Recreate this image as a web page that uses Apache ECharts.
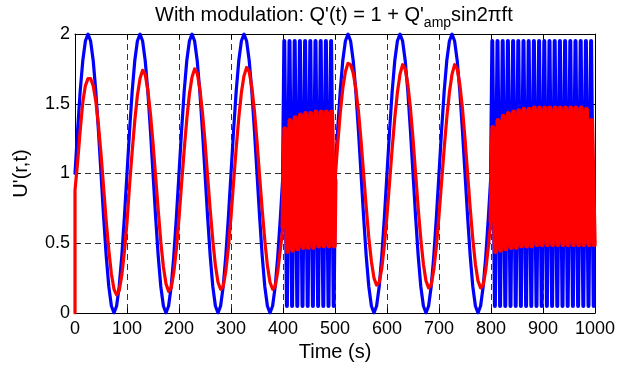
<!DOCTYPE html>
<html>
<head>
<meta charset="utf-8">
<script src="https://cdn.jsdelivr.net/npm/echarts@6/dist/echarts.min.js"></script>
<style>html,body{margin:0;padding:0;background:#fff}#c{width:619px;height:372px}</style>
</head>
<body>
<div id="c"></div>
<script>
// ---- data ----
const xTickLabels = [0, 100, 200, 300, 400, 500, 600, 700, 800, 900, 1000];
const yTickLabels = [0, 0.5, 1, 1.5, 2];

// slow segment 0..400 s, sampled every 5 s
const blueSlow1 = [
  1.00,1.31,1.59,1.81,1.95,2.00,1.95,1.81,1.59,1.31,1.00,0.69,0.41,0.19,0.05,0.00,0.05,0.19,0.41,0.69,
  1.00,1.31,1.59,1.81,1.95,2.00,1.95,1.81,1.59,1.31,1.00,0.69,0.41,0.19,0.05,0.00,0.05,0.19,0.41,0.69,
  1.00,1.31,1.59,1.81,1.95,2.00,1.95,1.81,1.59,1.31,1.00,0.69,0.41,0.19,0.05,0.00,0.05,0.19,0.41,0.69,
  1.00,1.31,1.59,1.81,1.95,2.00,1.95,1.81,1.59,1.31,1.00,0.69,0.41,0.19,0.05,0.00,0.05,0.19,0.41,0.69,
  1.00
];
const redInitial = 0.00;   // red starts from zero at t = 0
const redSlow1 = [
  0.88,1.08,1.31,1.51,1.63,1.68,1.68,1.63,1.52,1.35,1.14,0.90,0.66,0.45,0.28,0.17,0.13,0.16,0.27,0.44,
  0.65,0.92,1.16,1.38,1.56,1.68,1.74,1.71,1.60,1.43,1.22,0.98,0.74,0.51,0.33,0.21,0.155,0.18,0.29,0.46,
  0.68,0.93,1.17,1.39,1.57,1.69,1.75,1.72,1.61,1.44,1.23,0.98,0.74,0.52,0.34,0.22,0.17,0.19,0.30,0.47,
  0.69,0.94,1.18,1.40,1.58,1.70,1.76,1.73,1.62,1.45,1.23,0.98,0.74,0.52,0.34,0.22,0.17,0.19,0.30,0.46,
  0.62
];
// fast segment 400..500 s: successive extremes every 5 s
const blueFast1 = [
  1.95,0.05,1.95,0.05,1.95,0.05,1.95,0.05,1.95,0.05,
  1.95,0.05,1.95,0.05,1.95,0.05,1.95,0.05,1.95,0.05
];
const redFast1 = [
  1.32,0.44,1.38,0.45,1.40,0.46,1.42,0.47,1.43,0.47,
  1.43,0.47,1.44,0.48,1.44,0.48,1.44,0.48,1.44,0.48
];
// slow segment 500..800 s, sampled every 5 s
const blueSlow2 = [
  1.00,1.31,1.59,1.81,1.95,2.00,1.95,1.81,1.59,1.31,1.00,0.69,0.41,0.19,0.05,0.00,0.05,0.19,0.41,0.69,
  1.00,1.31,1.59,1.81,1.95,2.00,1.95,1.81,1.59,1.31,1.00,0.69,0.41,0.19,0.05,0.00,0.05,0.19,0.41,0.69,
  1.00,1.31,1.59,1.81,1.95,2.00,1.95,1.81,1.59,1.31,1.00,0.69,0.41,0.19,0.05,0.00,0.05,0.19,0.41,0.69,
  1.00
];
const redSlow2 = [
  0.95,1.20,1.43,1.61,1.73,1.79,1.78,1.72,1.61,1.45,1.24,1.00,0.76,0.54,0.37,0.25,0.20,0.22,0.32,0.49,
  0.70,0.94,1.18,1.40,1.58,1.71,1.78,1.75,1.64,1.47,1.25,1.00,0.75,0.53,0.35,0.23,0.18,0.20,0.31,0.48,
  0.70,0.94,1.18,1.40,1.58,1.71,1.78,1.75,1.64,1.47,1.25,1.00,0.75,0.53,0.35,0.23,0.18,0.20,0.31,0.48,
  0.66
];
// fast segment 800..1000 s: successive extremes every 5 s
const blueFast2 = [
  1.95,0.05,1.95,0.05,1.95,0.05,1.95,0.05,1.95,0.05,
  1.95,0.05,1.95,0.05,1.95,0.05,1.95,0.05,1.95,0.05,
  1.95,0.05,1.95,0.05,1.95,0.05,1.95,0.05,1.95,0.05,
  1.95,0.05,1.95,0.05,1.95,0.05,1.95,0.05,1.95,0.05
];
const redFast2 = [
  1.33,0.44,1.38,0.45,1.41,0.46,1.43,0.47,1.44,0.47,
  1.45,0.48,1.46,0.48,1.46,0.48,1.47,0.49,1.47,0.49,
  1.47,0.49,1.47,0.49,1.47,0.49,1.47,0.49,1.47,0.49,
  1.47,0.49,1.47,0.49,1.47,0.49,1.46,0.49,1.38,0.49
];

// ---- build [t, value] pairs ----
function seg(vals, t0, dt) { return vals.map((v, i) => [t0 + i * dt, v]); }
const bS1 = seg(blueSlow1, 0, 5), bS2 = seg(blueSlow2, 500, 5);
const rS1 = [[0, redInitial]].concat(seg(redSlow1, 0, 5)), rS2 = seg(redSlow2, 500, 5);
const bF1 = [bS1[bS1.length - 1]].concat(seg(blueFast1, 402.5, 5), [bS2[0]]);
const bF2 = [bS2[bS2.length - 1]].concat(seg(blueFast2, 802.5, 5));
const rF1 = [rS1[rS1.length - 1]].concat(seg(redFast1, 403.5, 5), [rS2[0]]);
const rF2 = [rS2[rS2.length - 1]].concat(seg(redFast2, 803.5, 5));

const FONT = 'Liberation Sans, Arial, Helvetica, sans-serif';
const BLUE = '#0000ff', RED = '#ff0000';
const chart = echarts.init(document.getElementById('c'), null, {renderer: 'canvas'});
const xMin = xTickLabels[0], xMax = xTickLabels[xTickLabels.length - 1];
const yMin = yTickLabels[0], yMax = yTickLabels[yTickLabels.length - 1];
const boxAxisCommon = {
  axisLine: {show: true, onZero: false, lineStyle: {color: '#000', width: 1}},
  axisTick: {show: true, inside: true, length: 5, lineStyle: {color: '#000'}},
};
function lineSeries(data, color, width, z) {
  return {
    type: 'line', data: data, showSymbol: false, symbol: 'none', clip: true, z: z,
    lineStyle: {color: color, width: width, join: 'round', cap: 'round'}
  };
}
chart.setOption({
  animation: false,
  backgroundColor: '#fff',
  title: {
    text: "{m|With modulation: Q'(t) = 1 + Q'}{s|amp}{m|sin2πft}",
    left: 155, top: 0, padding: 0,
    textStyle: {
      fontFamily: FONT, fontSize: 20, fontWeight: 'normal', color: '#000',
      rich: {
        m: {fontFamily: FONT, fontSize: 20, color: '#000', lineHeight: 30, verticalAlign: 'middle'},
        s: {fontFamily: FONT, fontSize: 14, color: '#000', lineHeight: 14, verticalAlign: 'bottom'}
      }
    }
  },
  grid: {left: 75, right: 24, top: 34, bottom: 59, containLabel: false},
  xAxis: [{
    type: 'value', min: xMin, max: xMax, interval: 100, position: 'bottom',
    name: 'Time (s)', nameLocation: 'middle', nameGap: 27,
    nameTextStyle: {fontFamily: FONT, fontSize: 20, color: '#000'},
    ...boxAxisCommon,
    axisLabel: {fontFamily: FONT, fontSize: 18, color: '#000', margin: 7,
                formatter: v => String(v)},
    splitLine: {show: true, lineStyle: {color: '#333', width: 1, type: [6, 4]}}
  }, {
    type: 'value', min: xMin, max: xMax, interval: 100, position: 'top',
    ...boxAxisCommon, axisLabel: {show: false}, splitLine: {show: false}
  }],
  yAxis: [{
    type: 'value', min: yMin, max: yMax, interval: 0.5, position: 'left',
    name: "U'(r,t)", nameLocation: 'middle', nameGap: 44, nameRotate: 90,
    nameTextStyle: {fontFamily: FONT, fontSize: 20, color: '#000'},
    ...boxAxisCommon,
    axisLabel: {fontFamily: FONT, fontSize: 18, color: '#000', margin: 5,
                formatter: v => String(v)},
    splitLine: {show: true, lineStyle: {color: '#333', width: 1, type: [6, 4]}}
  }, {
    type: 'value', min: yMin, max: yMax, interval: 0.5, position: 'right',
    ...boxAxisCommon, axisLabel: {show: false}, splitLine: {show: false}
  }],
  series: [
    lineSeries(bS1, BLUE, 3.2, 3), lineSeries(bF1, BLUE, 4, 3),
    lineSeries(bS2, BLUE, 3.2, 3), lineSeries(bF2, BLUE, 4, 3),
    lineSeries(rS1, RED, 3.2, 4), lineSeries(rF1, RED, 5, 4),
    lineSeries(rS2, RED, 3.2, 4), lineSeries(rF2, RED, 5, 4)
  ]
});
</script>
</body>
</html>
